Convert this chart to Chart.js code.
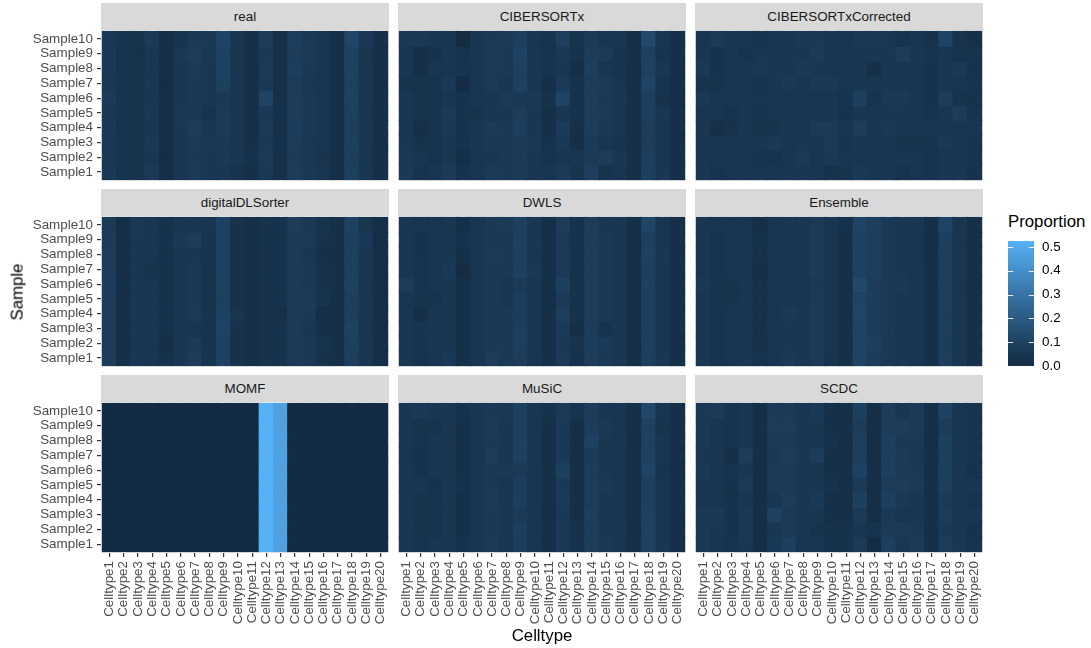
<!DOCTYPE html>
<html><head><meta charset="utf-8">
<script src="https://cdn.jsdelivr.net/npm/chart.js@4.4.0/dist/chart.umd.min.js"></script>
<style>
html,body{margin:0;padding:0;background:#fff;overflow:hidden;width:1091px;height:648px;position:relative;font-family:"Liberation Sans",Arial,sans-serif}
.strip{position:absolute;background:#D9D9D9;color:#1A1A1A;font-size:13.4px;display:flex;align-items:center;justify-content:center}
canvas{position:absolute}
.ttl{position:absolute;font-size:16.8px;color:#000;white-space:nowrap;line-height:1}
</style></head><body>
<script>
const samples = ['Sample1','Sample2','Sample3','Sample4','Sample5','Sample6','Sample7','Sample8','Sample9','Sample10'];
const celltypes = ['Celltype1','Celltype2','Celltype3','Celltype4','Celltype5','Celltype6','Celltype7','Celltype8','Celltype9','Celltype10','Celltype11','Celltype12','Celltype13','Celltype14','Celltype15','Celltype16','Celltype17','Celltype18','Celltype19','Celltype20'];
const methods = ['real','CIBERSORTx','CIBERSORTxCorrected','digitalDLSorter','DWLS','Ensemble','MOMF','MuSiC','SCDC'];
const legendTicks = [0,0.1,0.2,0.3,0.4,0.5];

// rows: Sample1 ... Sample10 ; columns: Celltype1 ... Celltype20
const real = [
[0.061,0.038,0.041,0.068,0.016,0.053,0.068,0.053,0.053,0.038,0.023,0.061,0.023,0.076,0.061,0.046,0.020,0.091,0.053,0.023],
[0.056,0.035,0.038,0.053,0.014,0.053,0.061,0.050,0.061,0.053,0.026,0.068,0.023,0.071,0.061,0.041,0.023,0.086,0.050,0.023],
[0.059,0.038,0.041,0.061,0.017,0.050,0.065,0.056,0.061,0.053,0.023,0.061,0.026,0.076,0.056,0.046,0.023,0.091,0.053,0.020],
[0.061,0.035,0.038,0.053,0.016,0.053,0.076,0.053,0.068,0.050,0.023,0.065,0.023,0.077,0.061,0.046,0.020,0.086,0.053,0.023],
[0.056,0.041,0.038,0.056,0.017,0.056,0.061,0.038,0.068,0.053,0.023,0.061,0.026,0.074,0.061,0.050,0.023,0.091,0.050,0.023],
[0.071,0.038,0.038,0.053,0.016,0.053,0.061,0.053,0.061,0.050,0.023,0.110,0.023,0.076,0.061,0.046,0.020,0.095,0.053,0.023],
[0.056,0.038,0.038,0.056,0.014,0.050,0.061,0.050,0.091,0.053,0.023,0.061,0.023,0.076,0.056,0.046,0.023,0.091,0.053,0.020],
[0.061,0.038,0.035,0.053,0.016,0.053,0.065,0.053,0.098,0.053,0.023,0.065,0.023,0.083,0.061,0.046,0.023,0.095,0.053,0.023],
[0.061,0.038,0.031,0.053,0.016,0.056,0.076,0.056,0.098,0.050,0.023,0.061,0.023,0.076,0.068,0.046,0.020,0.098,0.050,0.023],
[0.061,0.041,0.038,0.068,0.016,0.038,0.061,0.061,0.106,0.053,0.023,0.076,0.023,0.083,0.061,0.046,0.023,0.113,0.061,0.023]];
const cibersortx = [
[0.061,0.038,0.046,0.068,0.031,0.046,0.068,0.061,0.068,0.046,0.046,0.068,0.038,0.083,0.038,0.046,0.023,0.091,0.053,0.023],
[0.061,0.046,0.038,0.053,0.016,0.046,0.053,0.061,0.068,0.053,0.038,0.046,0.046,0.068,0.076,0.053,0.023,0.083,0.046,0.023],
[0.053,0.031,0.038,0.053,0.031,0.053,0.061,0.061,0.068,0.061,0.031,0.061,0.023,0.068,0.046,0.038,0.023,0.076,0.046,0.023],
[0.053,0.023,0.038,0.061,0.031,0.046,0.068,0.061,0.083,0.053,0.023,0.068,0.023,0.076,0.061,0.046,0.023,0.076,0.046,0.023],
[0.046,0.038,0.038,0.068,0.031,0.038,0.053,0.053,0.076,0.053,0.023,0.053,0.031,0.076,0.068,0.046,0.023,0.083,0.053,0.023],
[0.053,0.038,0.038,0.046,0.031,0.046,0.053,0.068,0.061,0.061,0.031,0.106,0.031,0.076,0.061,0.053,0.023,0.083,0.031,0.016],
[0.038,0.038,0.038,0.061,0.006,0.046,0.068,0.053,0.098,0.053,0.023,0.068,0.031,0.076,0.068,0.046,0.023,0.106,0.038,0.016],
[0.053,0.023,0.046,0.046,0.038,0.046,0.068,0.061,0.098,0.053,0.038,0.053,0.016,0.083,0.046,0.038,0.016,0.098,0.053,0.016],
[0.046,0.023,0.031,0.046,0.038,0.053,0.068,0.061,0.106,0.046,0.038,0.061,0.031,0.076,0.068,0.038,0.023,0.098,0.038,0.023],
[0.061,0.061,0.053,0.053,0.008,0.053,0.061,0.068,0.091,0.046,0.038,0.083,0.038,0.068,0.046,0.046,0.016,0.128,0.046,0.023]];
const cibersortxCorrected = [
[0.053,0.038,0.046,0.053,0.046,0.046,0.053,0.053,0.046,0.031,0.038,0.061,0.053,0.046,0.038,0.046,0.038,0.053,0.046,0.031],
[0.053,0.046,0.046,0.053,0.038,0.038,0.046,0.068,0.046,0.061,0.046,0.046,0.053,0.053,0.053,0.046,0.038,0.046,0.046,0.038],
[0.053,0.046,0.053,0.053,0.046,0.061,0.046,0.053,0.053,0.068,0.038,0.053,0.046,0.053,0.038,0.038,0.038,0.061,0.046,0.038],
[0.053,0.023,0.031,0.053,0.038,0.038,0.053,0.046,0.068,0.068,0.046,0.076,0.046,0.061,0.046,0.046,0.046,0.046,0.046,0.046],
[0.046,0.046,0.038,0.053,0.038,0.046,0.046,0.053,0.053,0.053,0.031,0.053,0.046,0.053,0.053,0.046,0.038,0.053,0.076,0.038],
[0.061,0.046,0.046,0.046,0.046,0.046,0.046,0.053,0.046,0.046,0.038,0.091,0.038,0.061,0.061,0.053,0.031,0.076,0.038,0.031],
[0.038,0.038,0.046,0.053,0.038,0.053,0.061,0.046,0.061,0.061,0.046,0.053,0.053,0.053,0.053,0.046,0.031,0.053,0.046,0.038],
[0.061,0.031,0.053,0.053,0.061,0.053,0.053,0.061,0.053,0.046,0.046,0.053,0.023,0.053,0.046,0.046,0.031,0.053,0.061,0.031],
[0.053,0.031,0.046,0.038,0.053,0.053,0.053,0.053,0.068,0.046,0.046,0.053,0.053,0.053,0.076,0.053,0.038,0.053,0.031,0.038],
[0.046,0.068,0.053,0.053,0.031,0.053,0.053,0.061,0.061,0.046,0.046,0.061,0.061,0.053,0.038,0.053,0.031,0.106,0.038,0.023]];
const digitalDLSorter = [
[0.076,0.016,0.053,0.046,0.031,0.053,0.076,0.038,0.098,0.031,0.023,0.031,0.031,0.068,0.061,0.031,0.023,0.083,0.053,0.016],
[0.076,0.016,0.053,0.046,0.016,0.053,0.068,0.038,0.098,0.031,0.023,0.031,0.031,0.068,0.061,0.038,0.023,0.091,0.053,0.016],
[0.076,0.016,0.053,0.046,0.031,0.053,0.046,0.038,0.106,0.031,0.023,0.031,0.031,0.068,0.053,0.016,0.023,0.095,0.046,0.016],
[0.076,0.016,0.053,0.046,0.031,0.053,0.068,0.038,0.098,0.046,0.023,0.031,0.023,0.068,0.061,0.016,0.023,0.083,0.053,0.016],
[0.076,0.016,0.053,0.046,0.031,0.053,0.061,0.038,0.091,0.031,0.023,0.031,0.031,0.068,0.068,0.038,0.023,0.086,0.053,0.016],
[0.080,0.016,0.053,0.046,0.031,0.053,0.061,0.038,0.095,0.031,0.023,0.031,0.031,0.071,0.061,0.031,0.023,0.095,0.046,0.016],
[0.076,0.016,0.053,0.038,0.031,0.053,0.061,0.038,0.098,0.031,0.023,0.031,0.031,0.065,0.061,0.031,0.023,0.091,0.053,0.016],
[0.076,0.016,0.053,0.046,0.031,0.053,0.053,0.038,0.098,0.031,0.023,0.031,0.031,0.068,0.053,0.023,0.023,0.091,0.053,0.016],
[0.071,0.016,0.053,0.046,0.031,0.061,0.076,0.038,0.098,0.031,0.023,0.031,0.031,0.068,0.068,0.031,0.023,0.091,0.061,0.016],
[0.068,0.016,0.061,0.046,0.031,0.046,0.053,0.046,0.098,0.031,0.023,0.031,0.031,0.076,0.061,0.038,0.023,0.101,0.046,0.016]];
const dwls = [
[0.053,0.038,0.046,0.061,0.023,0.046,0.076,0.061,0.076,0.046,0.023,0.068,0.031,0.076,0.061,0.053,0.016,0.091,0.053,0.023],
[0.053,0.038,0.046,0.053,0.016,0.046,0.061,0.061,0.083,0.053,0.023,0.061,0.038,0.080,0.068,0.053,0.016,0.091,0.046,0.023],
[0.053,0.041,0.046,0.053,0.023,0.053,0.061,0.061,0.083,0.053,0.023,0.068,0.016,0.076,0.038,0.053,0.016,0.091,0.046,0.023],
[0.053,0.023,0.046,0.053,0.023,0.046,0.061,0.061,0.080,0.053,0.023,0.083,0.031,0.076,0.061,0.046,0.016,0.083,0.046,0.023],
[0.046,0.038,0.038,0.053,0.023,0.046,0.061,0.053,0.080,0.053,0.016,0.068,0.031,0.076,0.061,0.053,0.020,0.086,0.046,0.023],
[0.076,0.038,0.046,0.053,0.023,0.046,0.061,0.053,0.068,0.053,0.023,0.091,0.031,0.076,0.061,0.053,0.016,0.095,0.046,0.023],
[0.053,0.038,0.046,0.061,0.008,0.046,0.061,0.061,0.098,0.061,0.023,0.068,0.031,0.076,0.061,0.053,0.016,0.091,0.046,0.023],
[0.053,0.031,0.046,0.053,0.023,0.046,0.068,0.061,0.091,0.046,0.023,0.068,0.031,0.076,0.061,0.053,0.016,0.095,0.053,0.023],
[0.053,0.031,0.046,0.053,0.031,0.046,0.061,0.061,0.098,0.053,0.023,0.068,0.031,0.076,0.061,0.053,0.016,0.091,0.046,0.023],
[0.053,0.046,0.046,0.053,0.023,0.046,0.061,0.068,0.091,0.053,0.023,0.076,0.031,0.076,0.053,0.053,0.020,0.113,0.046,0.023]];
const ensemble = [
[0.053,0.038,0.046,0.053,0.031,0.046,0.061,0.053,0.068,0.038,0.023,0.106,0.076,0.061,0.053,0.046,0.023,0.083,0.046,0.023],
[0.053,0.038,0.046,0.046,0.023,0.046,0.053,0.053,0.068,0.046,0.023,0.106,0.091,0.061,0.053,0.046,0.023,0.080,0.046,0.023],
[0.053,0.038,0.046,0.046,0.023,0.053,0.053,0.053,0.068,0.046,0.023,0.106,0.076,0.061,0.046,0.046,0.023,0.083,0.046,0.023],
[0.053,0.038,0.046,0.046,0.023,0.046,0.061,0.053,0.071,0.046,0.023,0.113,0.076,0.061,0.053,0.046,0.023,0.080,0.046,0.023],
[0.053,0.038,0.038,0.046,0.023,0.046,0.053,0.046,0.068,0.046,0.023,0.106,0.080,0.061,0.053,0.046,0.023,0.083,0.046,0.023],
[0.061,0.038,0.038,0.046,0.023,0.046,0.053,0.053,0.061,0.046,0.023,0.121,0.076,0.061,0.061,0.046,0.023,0.086,0.046,0.020],
[0.046,0.038,0.046,0.046,0.020,0.046,0.053,0.053,0.071,0.046,0.023,0.098,0.083,0.061,0.053,0.046,0.023,0.083,0.046,0.023],
[0.053,0.035,0.046,0.046,0.023,0.046,0.053,0.053,0.071,0.046,0.023,0.101,0.083,0.061,0.053,0.046,0.020,0.086,0.046,0.023],
[0.053,0.035,0.046,0.046,0.026,0.046,0.053,0.053,0.071,0.046,0.023,0.098,0.083,0.061,0.053,0.046,0.020,0.083,0.046,0.023],
[0.053,0.046,0.046,0.046,0.020,0.046,0.053,0.053,0.068,0.046,0.026,0.106,0.083,0.061,0.053,0.050,0.023,0.106,0.046,0.023]];
const momf = [
[0,0,0,0,0,0,0,0,0,0,0,0.525,0.470,0,0,0,0,0,0,0],
[0,0,0,0,0,0,0,0,0,0,0,0.525,0.470,0,0,0,0,0,0,0],
[0,0,0,0,0,0,0,0,0,0,0,0.525,0.470,0,0,0,0,0,0,0],
[0,0,0,0,0,0,0,0,0,0,0,0.525,0.470,0,0,0,0,0,0,0],
[0,0,0,0,0,0,0,0,0,0,0,0.525,0.470,0,0,0,0,0,0,0],
[0,0,0,0,0,0,0,0,0,0,0,0.525,0.470,0,0,0,0,0,0,0],
[0,0,0,0,0,0,0,0,0,0,0,0.525,0.470,0,0,0,0,0,0,0],
[0,0,0,0,0,0,0,0,0,0,0,0.525,0.470,0,0,0,0,0,0,0],
[0,0,0,0,0,0,0,0,0,0,0,0.525,0.470,0,0,0,0,0,0,0],
[0,0,0,0,0,0,0,0,0,0,0,0.525,0.470,0,0,0,0,0,0,0]];
const music = [
[0.053,0.038,0.046,0.053,0.031,0.046,0.068,0.046,0.083,0.046,0.023,0.061,0.031,0.076,0.061,0.046,0.023,0.098,0.053,0.023],
[0.053,0.038,0.038,0.053,0.023,0.046,0.061,0.053,0.086,0.046,0.023,0.061,0.031,0.080,0.053,0.046,0.020,0.098,0.046,0.023],
[0.053,0.038,0.038,0.053,0.023,0.053,0.061,0.053,0.068,0.046,0.016,0.061,0.023,0.083,0.046,0.046,0.023,0.098,0.046,0.023],
[0.053,0.038,0.038,0.053,0.020,0.046,0.068,0.053,0.086,0.046,0.023,0.065,0.023,0.076,0.053,0.046,0.023,0.091,0.046,0.023],
[0.046,0.046,0.031,0.053,0.026,0.046,0.061,0.046,0.086,0.046,0.023,0.061,0.023,0.076,0.061,0.046,0.023,0.091,0.046,0.023],
[0.053,0.031,0.046,0.053,0.023,0.046,0.061,0.061,0.068,0.046,0.023,0.091,0.023,0.076,0.053,0.046,0.023,0.106,0.038,0.016],
[0.046,0.031,0.046,0.053,0.023,0.046,0.076,0.046,0.098,0.053,0.023,0.061,0.023,0.068,0.053,0.046,0.023,0.095,0.046,0.023],
[0.053,0.038,0.046,0.046,0.023,0.046,0.061,0.053,0.095,0.053,0.023,0.061,0.023,0.098,0.053,0.046,0.020,0.095,0.046,0.023],
[0.046,0.038,0.038,0.046,0.023,0.046,0.068,0.053,0.095,0.046,0.023,0.061,0.023,0.076,0.061,0.046,0.023,0.095,0.038,0.023],
[0.053,0.061,0.053,0.053,0.031,0.053,0.061,0.061,0.098,0.046,0.031,0.068,0.038,0.076,0.046,0.046,0.023,0.121,0.046,0.023]];
const scdc = [
[0.061,0.046,0.038,0.053,0.016,0.061,0.091,0.046,0.053,0.031,0.031,0.068,0.011,0.091,0.053,0.068,0.023,0.076,0.053,0.038],
[0.061,0.053,0.031,0.061,0.016,0.053,0.068,0.053,0.038,0.031,0.031,0.053,0.038,0.068,0.068,0.061,0.023,0.061,0.046,0.031],
[0.061,0.061,0.031,0.061,0.016,0.098,0.068,0.053,0.053,0.023,0.023,0.068,0.016,0.061,0.046,0.053,0.023,0.076,0.046,0.046],
[0.053,0.046,0.031,0.053,0.016,0.053,0.076,0.053,0.061,0.023,0.023,0.091,0.016,0.091,0.061,0.053,0.023,0.068,0.046,0.038],
[0.053,0.046,0.031,0.068,0.016,0.068,0.068,0.046,0.053,0.031,0.023,0.068,0.016,0.076,0.076,0.068,0.023,0.083,0.046,0.046],
[0.061,0.046,0.038,0.053,0.016,0.068,0.068,0.053,0.046,0.023,0.023,0.098,0.016,0.091,0.068,0.061,0.023,0.091,0.046,0.031],
[0.053,0.046,0.016,0.076,0.016,0.061,0.076,0.053,0.076,0.023,0.023,0.083,0.016,0.091,0.068,0.053,0.023,0.083,0.046,0.038],
[0.061,0.046,0.038,0.053,0.016,0.068,0.068,0.053,0.053,0.031,0.023,0.083,0.016,0.091,0.061,0.061,0.016,0.091,0.046,0.038],
[0.061,0.046,0.038,0.053,0.016,0.076,0.076,0.053,0.053,0.023,0.023,0.076,0.016,0.076,0.076,0.068,0.023,0.076,0.046,0.038],
[0.061,0.068,0.038,0.053,0.016,0.068,0.068,0.053,0.061,0.023,0.023,0.091,0.016,0.076,0.053,0.068,0.020,0.098,0.046,0.038]];

const panelData = [real, cibersortx, cibersortxCorrected, digitalDLSorter, dwls, ensemble, momf, music, scdc];

// ---------- colour scale (ggplot2 default gradient, Lab interpolation) ----------
const LOW = '#132B43', HIGH = '#56B1F7';
function s2l(c){c/=255;return c<=0.04045?c/12.92:Math.pow((c+0.055)/1.055,2.4);}
function l2s(c){const v=c<=0.0031308?12.92*c:1.055*Math.pow(c,1/2.4)-0.055;return Math.round(Math.max(0,Math.min(1,v))*255);}
const WX=0.95047,WY=1,WZ=1.08883,EPS=216/24389,KAP=24389/27;
function fl(t){return t>EPS?Math.cbrt(t):(KAP*t+16)/116;}
function fi(t){const t3=t*t*t;return t3>EPS?t3:(116*t-16)/KAP;}
function hex2lab(h){
  const r=s2l(parseInt(h.slice(1,3),16)),g=s2l(parseInt(h.slice(3,5),16)),b=s2l(parseInt(h.slice(5,7),16));
  const X=0.4124564*r+0.3575761*g+0.1804375*b,Y=0.2126729*r+0.7151522*g+0.0721750*b,Z=0.0193339*r+0.1191920*g+0.9503041*b;
  const fx=fl(X/WX),fy=fl(Y/WY),fz=fl(Z/WZ);
  return [116*fy-16,500*(fx-fy),200*(fy-fz)];
}
function lab2css(L,a,b){
  const fy=(L+16)/116,fx=fy+a/500,fz=fy-b/200;
  const X=WX*fi(fx),Y=WY*(L>KAP*EPS?Math.pow(fy,3):L/KAP),Z=WZ*fi(fz);
  const r=3.2404542*X-1.5371385*Y-0.4985314*Z,g=-0.9692660*X+1.8760108*Y+0.0415560*Z,bb=0.0556434*X-0.2040259*Y+1.0572252*Z;
  return 'rgb('+l2s(r)+','+l2s(g)+','+l2s(bb)+')';
}
const labLo=hex2lab(LOW), labHi=hex2lab(HIGH);
const allVals = panelData.flat(2);
const vMin = Math.min(...allVals), vMax = Math.max(...allVals);
function colorAt(t){t=Math.max(0,Math.min(1,t));return lab2css(labLo[0]+(labHi[0]-labLo[0])*t,labLo[1]+(labHi[1]-labLo[1])*t,labLo[2]+(labHi[2]-labLo[2])*t);}
function colorFor(v){return colorAt((v-vMin)/(vMax-vMin));}

// ---------- layout ----------
const FONT = '"Liberation Sans", Arial, sans-serif';
const PX=[101,398,695], PY=[30,216,402], PW=288, PH=151;
const SY=[3,189,375], SH=27;
const M=12, YW=101, XH=80;

const panelBg = {
  id:'panelBg',
  beforeDatasetsDraw(chart){
    const {ctx, chartArea:a, scales} = chart;
    ctx.save();
    ctx.fillStyle='#EBEBEB';
    ctx.fillRect(a.left,a.top,a.right-a.left,a.bottom-a.top);
    ctx.strokeStyle='#FFFFFF'; ctx.lineWidth=1.2;
    ctx.beginPath();
    celltypes.forEach((_,i)=>{const p=scales.x.getPixelForValue(i+1);ctx.moveTo(p,a.top);ctx.lineTo(p,a.bottom);});
    samples.forEach((_,i)=>{const p=scales.y.getPixelForValue(i+1);ctx.moveTo(a.left,p);ctx.lineTo(a.right,p);});
    ctx.stroke();
    ctx.restore();
  }
};

function mk(tag, cls){const e=document.createElement(tag); if(cls) e.className=cls; document.body.appendChild(e); return e;}

methods.forEach((name,k)=>{
  const col=k%3, row=Math.floor(k/3);
  const hasY = col===0, hasX = row===2;
  const s = mk('div','strip');
  s.style.left=PX[col]+'px'; s.style.top=SY[row]+'px'; s.style.width=PW+'px'; s.style.height=SH+'px';
  s.textContent=name;
  const cv = mk('canvas');
  const w = M+(hasY?YW:0)+PW+M, h = M+PH+(hasX?XH:0)+M;
  cv.width=w; cv.height=h;
  cv.style.left=(PX[col]-M-(hasY?YW:0))+'px'; cv.style.top=(PY[row]-M)+'px';
  cv.style.width=w+'px'; cv.style.height=h+'px';
  const mat = panelData[k];
  const pts=[], cols=[];
  mat.forEach((rowVals,r)=>rowVals.forEach((v,c)=>{pts.push({x:c+1,y:[r+0.5,r+1.5]});cols.push(colorFor(v));}));
  const tickFont={family:FONT,size:13.4};
  const xScale={type:'linear',min:0.4,max:20.6,offset:false,display:hasX,
           afterBuildTicks:s=>{s.ticks=celltypes.map((_,i)=>({value:i+1}));},
           ticks:{autoSkip:false,minRotation:90,maxRotation:90,padding:4,color:'#4D4D4D',font:tickFont,callback:v=>celltypes[v-1]},
           grid:{offset:false,drawOnChartArea:false,drawTicks:true,tickLength:4,tickColor:'#333333',lineWidth:1.2},
           border:{display:false}};
  if(hasX) xScale.afterFit=s=>{s.height=XH;};
  const yScale={type:'linear',min:0.4,max:10.6,offset:false,display:hasY,
           afterBuildTicks:s=>{s.ticks=samples.map((_,i)=>({value:i+1}));},
           ticks:{autoSkip:false,padding:4,color:'#4D4D4D',font:tickFont,callback:v=>samples[v-1]},
           grid:{offset:false,drawOnChartArea:false,drawTicks:true,tickLength:4,tickColor:'#333333',lineWidth:1.2},
           border:{display:false}};
  if(hasY) yScale.afterFit=s=>{s.width=YW;};
  new Chart(cv,{
    type:'bar',
    data:{datasets:[{data:pts,backgroundColor:cols,borderWidth:0,barPercentage:1,categoryPercentage:1,inflateAmount:0.6}]},
    options:{
      responsive:false, animation:false, devicePixelRatio:1,
      layout:{padding:{left:M,right:M,top:M,bottom:M}},
      plugins:{legend:{display:false},tooltip:{enabled:false}},
      scales:{x:xScale,y:yScale}
    },
    plugins:[panelBg]
  });
});

const yt = mk('div','ttl'); yt.textContent='Sample';
yt.style.left='18px'; yt.style.top='292px'; yt.style.transform='translate(-50%,-50%) rotate(-90deg)';
const xt = mk('div','ttl'); xt.textContent='Celltype';
xt.style.left='542px'; xt.style.top='636px'; xt.style.transform='translate(-50%,-50%)';

const lt = mk('div','ttl'); lt.textContent='Proportion';
lt.style.left='1008px'; lt.style.top='214px';
const LB={x:1008,y:237,w:26,h:133}, LW=50;
const lc = mk('canvas');
const lw=M+LB.w+LW+M, lh=M+LB.h+M;
lc.width=lw; lc.height=lh; lc.style.left=(LB.x-M)+'px'; lc.style.top=(LB.y-M)+'px'; lc.style.width=lw+'px'; lc.style.height=lh+'px';
const colorbar = {
  id:'colorbar',
  beforeDatasetsDraw(chart){
    const {ctx, chartArea:a, scales:{y}} = chart;
    const g = ctx.createLinearGradient(0,a.bottom,0,a.top);
    for(let i=0;i<=30;i++){g.addColorStop(i/30,colorAt(i/30));}
    ctx.save();
    ctx.fillStyle=g; ctx.fillRect(a.left,a.top,a.right-a.left,a.bottom-a.top);
    ctx.strokeStyle='rgba(255,255,255,0.85)'; ctx.lineWidth=1;
    const tl=(a.right-a.left)/5;
    ctx.beginPath();
    legendTicks.forEach(v=>{const p=Math.round(y.getPixelForValue(v))+0.5;ctx.moveTo(a.left,p);ctx.lineTo(a.left+tl,p);ctx.moveTo(a.right-tl,p);ctx.lineTo(a.right,p);});
    ctx.stroke();
    ctx.restore();
  }
};
new Chart(lc,{
  type:'bar',
  data:{labels:[''],datasets:[{data:[null]}]},
  options:{
    responsive:false, animation:false, devicePixelRatio:1,
    layout:{padding:{left:M,right:M,top:M,bottom:M}},
    plugins:{legend:{display:false},tooltip:{enabled:false}},
    scales:{
      x:{display:false},
      y:{position:'right',min:vMin,max:vMax,
         afterBuildTicks:s=>{s.ticks=legendTicks.map(v=>({value:v}));},
         afterFit:s=>{s.width=LW;},
         ticks:{autoSkip:false,padding:8,color:'#000000',font:{family:FONT,size:13.4},callback:v=>v.toFixed(1)},
         grid:{display:false,drawTicks:false},
         border:{display:false}}
    }
  },
  plugins:[colorbar]
});
</script>
</body></html>
